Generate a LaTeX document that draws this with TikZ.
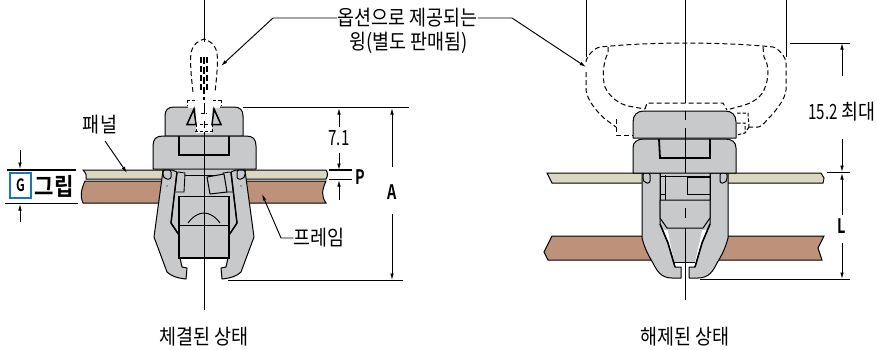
\documentclass[tikz,border=0pt]{standalone}
\usepackage{fontspec}
\usetikzlibrary{arrows.meta}
\setmainfont{Noto Sans CJK KR}[FakeStretch=0.88,BoldFont={* Bold}]
\newfontfamily\latf{Noto Sans CJK KR}[FakeStretch=0.72,BoldFont={* Bold}]
\definecolor{partgray}{HTML}{C8C9CB}
\definecolor{panelc}{HTML}{DAD8C3}
\definecolor{framec}{HTML}{BE917B}
\definecolor{gblue}{HTML}{1B75B9}
\tikzset{
  x=1pt,y=-1pt,
  part/.style={fill=partgray,draw=black,line width=1pt,line join=round},
  heavy/.style={draw=black,line width=1.8pt,line join=miter},
  thinl/.style={draw=black,line width=0.9pt},
  panelp/.style={fill=panelc,draw=black,line width=1pt},
  framep/.style={fill=framec,draw=black,line width=1pt},
  phantomw/.style={draw=black,line width=1pt,dash pattern=on 5pt off 3pt},
  dim/.style={draw=black,line width=0.95pt},
  arr/.style={dim,-{Latex[length=6.5pt,width=3.6pt]}},
  lab/.style={font=\fontsize{21}{23}\selectfont,inner sep=0pt,text=black},
  nlab/.style={font=\fontsize{21}{23}\selectfont\latf,inner sep=0pt,text=black},
  blab/.style={font=\fontsize{20}{22}\selectfont\latf\bfseries,inner sep=0pt,text=black},
}
\begin{document}
\begin{tikzpicture}
\useasboundingbox (0,0) rectangle (877,349);
% ---------- LEFT FIGURE ----------
\draw[framep] (85,181) .. controls (81,190) and (80,196) .. (83,203) -- (170,203) -- (170,181) -- cycle;
\draw[framep] (238,181) -- (326,181) .. controls (322,190) and (321,196) .. (326,203) -- (238,203) -- cycle;
\draw[panelp] (83,170) -- (170,170) -- (170,179) -- (86,179) .. controls (87,176) and (86,173) .. (83,170) -- cycle;
\draw[panelp] (238,170) -- (326,170) .. controls (328,173) and (328,176) .. (326,179) -- (238,179) -- cycle;
\newcommand{\leftleg}{%
\draw[part] (162,178) -- (154,237) -- (167,272) .. controls (171,276) and (177,278) .. (186,279) -- (187,268) -- (182,267) -- (180,258) -- (179,235) -- (171,223) -- (177,172) -- (172,170) -- (163,170) -- cycle;
\draw[heavy,line width=1.4pt] (177,172) -- (171,223) -- (179,235);
\draw[thinl] (178,172) -- (185,173) -- (184,192) -- (175.5,192);
\draw[part,rounded corners=2pt] (163,170) -- (171,170) -- (171,179) -- (165,179) -- (163,176) -- cycle;
\fill (167,186) circle (0.7);
}
\fill[partgray] (172,170) rectangle (236,240);
\leftleg
\begin{scope}[shift={(408,0)},xscale=-1]\leftleg\end{scope}
\draw[thinl] (185,175) -- (224,175);
\draw[part] (207,177) -- (224,174) -- (227,192) -- (210,194) -- cycle;
\draw[part] (179,196) rectangle (229,225);
\draw[part] (179,225) rectangle (229,258);
\draw[heavy,line width=1.4pt] (179,196) -- (179,258) -- (229,258) -- (229,196);
\draw[thinl] (179,196) -- (229,196);
\draw[thinl] (188,223) .. controls (193,216) and (199,213) .. (204,213) .. controls (209,213) and (215,216) .. (220,223);
% caps
\draw[part] (165,136) -- (165,116) .. controls (165,110) and (168,107) .. (174,107) -- (234,107) .. controls (240,107) and (243,110) .. (243,116) -- (243,136) -- cycle;
\draw[part] (153,169) -- (153,146) .. controls (153,139) and (156,136) .. (163,136) -- (246,136) .. controls (253,136) and (256,139) .. (256,146) -- (256,169) -- cycle;
\draw[heavy] (179,136) -- (179,155) -- (229,155) -- (229,136);
% wing phantom left
\fill[white] (196,106) rectangle (212,133);
\fill[white] (188,105) rectangle (220,108);
\draw[heavy,line width=1.5pt,fill=partgray] (194,109) -- (187,124.5) -- (196,124.5) -- cycle;
\draw[heavy,line width=1.5pt,fill=partgray] (214,109) -- (221,124.5) -- (212,124.5) -- cycle;
\draw[phantomw] (193,92) .. controls (191,75) and (190,62) .. (191,53) .. controls (193,44) and (198,41) .. (204,39) .. controls (210,41) and (215,44) .. (217,53) .. controls (218,62) and (217,75) .. (215,92);
\draw[phantomw,dash pattern=on 3pt off 2pt] (187,100) -- (197,100) (187,100) -- (187,106) (221,100) -- (211,100) (221,100) -- (221,106) (195,131) -- (213,131) (196,124) -- (196,131) (212,124) -- (212,131) (201,113) -- (207,113) (200,124) -- (208,124);
\draw[phantomw,line width=1.1pt,dash pattern=on 6pt off 3pt] (201,57) -- (201,90) (207,57) -- (207,90);
% centre line left
\draw[dim] (204,0) -- (204,42) (204,103) -- (204,114) (204,121) -- (204,128) (204,132) -- (204,310);
\draw[dim,line width=1.3pt,dash pattern=on 7pt off 3pt] (204,57) -- (204,100);
% ---------- RIGHT FIGURE ----------
\draw[framep] (552,236) -- (660,236) -- (660,260) -- (548,260) -- (544,252) -- cycle;
\draw[framep] (710,236) -- (824,236) -- (818,248) -- (822,260) -- (710,260) -- cycle;
\draw[panelp] (547,173) -- (650,173) -- (650,183) -- (552,183) -- cycle;
\draw[panelp] (720,173) -- (821,173) -- (824,178) -- (823,183) -- (720,183) -- cycle;
\newcommand{\rightleg}{%
\draw[part] (642,183) -- (642,238) .. controls (645,250) and (650,258) .. (653,263) .. controls (657,271) and (661,278) .. (672,278) -- (681,278) -- (681,267) -- (675,267) -- (668,243) -- (660,224) -- (660,173) -- (642,173) -- cycle;
\draw[heavy,line width=1.5pt] (660,224) -- (668,243) -- (675,267);
\draw[part,rounded corners=2pt] (643,173) -- (650,173) -- (650,183) -- (645,183) -- (643,180) -- cycle;
}
\fill[partgray] (660,173) rectangle (710,230);
\draw[draw=none,fill=partgray] (667,226) -- (703,226) -- (695,262) -- (674,262) -- cycle;
\rightleg
\begin{scope}[shift={(1370,0)},xscale=-1]\rightleg\end{scope}
\draw[thinl] (674,262) -- (695,262);
\draw[part] (660,200) -- (710,200) -- (710,218) -- (703,228) -- (667,228) -- (660,218) -- cycle;
\draw[thinl] (660,173) -- (660,200) (710,173) -- (710,200) (665,175) -- (665,200) (660,194) -- (665,194) (660,176) -- (710,176);
\draw[thinl] (687,177) -- (710,177) (687,177) -- (687,194) -- (710,194);
% caps
\draw[part] (633,138) -- (633,122) .. controls (633,115) and (637,111) .. (644,111) -- (725,111) .. controls (732,111) and (736,115) .. (736,122) -- (736,138) -- cycle;
\draw[part] (633,173) -- (633,148) .. controls (633,142) and (637,139) .. (644,139) -- (725,139) .. controls (732,139) and (736,142) .. (736,148) -- (736,173) -- cycle;
\draw[heavy] (659,139) -- (660,158) -- (710,158) -- (710,139);
% wing phantom right
\draw[phantomw] (586,62) .. controls (586,57) and (594,48) .. (600,47) .. controls (630,44) and (660,43) .. (685,43) .. controls (710,43) and (745,44) .. (773,47) .. controls (778,48) and (786,57) .. (786,63) -- (786,90) .. controls (785,100) and (775,112) .. (767,120) .. controls (763,125) and (760,127) .. (758,127) -- (749,127);
\draw[phantomw] (586,72) -- (586,90) .. controls (587,100) and (597,112) .. (605,119) -- (616,127);
\draw[phantomw] (616,119) -- (616,135) -- (633,135);
\draw[phantomw] (608,47) -- (608,53) .. controls (603,62) and (602,78) .. (605,87) .. controls (610,98) and (620,104) .. (628,106) -- (645,109);
\draw[phantomw] (645,109) -- (647,103) -- (723,103) -- (727,110);
\draw[phantomw] (763,47) -- (764,57) .. controls (769,65) and (770,78) .. (763,92) .. controls (758,100) and (748,105) .. (737,107) -- (727,110);
\draw[phantomw,dash pattern=on 3.5pt off 2pt] (737,113) -- (748,113) -- (749,127) (749,127) -- (745,133) -- (737,135) (737,123) -- (745,123) -- (745,133);
% centre line right
\draw[dim] (685,0) -- (685,103) (685,111) -- (685,120) (685,128) -- (685,173) (685,208) -- (685,218) (685,228) -- (685,300);
\draw[dim] (586,0) -- (586,57) (786,0) -- (786,57);
% ---------- LEADERS ----------
\node[lab,anchor=center] (opt) at (407.5,18) {옵션으로 제공되는};
\node[lab,anchor=center] (wing) at (408.5,43) {윙(별도 판매됨)};
\coordinate (optLbend) at (273,18);
\coordinate (optLtip) at (221,66);
\coordinate (optRbend) at (512,18);
\coordinate (optRtip) at (586,67);
\draw[arr] (opt.west) -- (optLbend) -- (optLtip);
\draw[arr] (opt.east) -- (optRbend) -- (optRtip);
\node[lab] (panel) at (100,125) {패널};
\coordinate (panelTip) at (127,173);
\draw[arr] (105,141) -- (panelTip);
\node[lab] (frame) at (319,238) {프레임};
\coordinate (frameBend) at (281,238);
\coordinate (frameTip) at (262,194);
\draw[arr] (frame.west) -- (frameBend) -- (frameTip);
% ---------- G ----------
\draw[dim,line width=1.1pt] (7,170) -- (76,170) (5,203.5) -- (78,203.5);
\coordinate (gt) at (20,169);\coordinate (gb) at (20,204);
\draw[arr] (20,150) -- (gt);
\draw[arr] (20,222) -- (gb);
\node[draw=gblue,line width=2pt,fill=white,minimum width=21pt,minimum height=25.5pt,inner sep=0pt,font=\fontsize{17}{17}\selectfont\latf\bfseries] (gbox) at (20.5,185.5) {G};
\node[inner sep=0pt,font=\fontsize{24}{26}\selectfont\bfseries] (grip) at (54,186) {그립};
% ---------- DIMS LEFT ----------
\draw[dim] (243,107) -- (409,107);
\draw[dim] (228,280.5) -- (403,280.5);
\draw[arr] (339,127) -- (339,108);
\node[nlab] (d71) at (339,138) {7.1};
\draw[arr] (339,153) -- (339,170);
\draw[dim,line width=1.5pt] (329,170) -- (352,170);
\draw[dim] (329,179.5) -- (352,179.5);
\draw[arr] (339,200) -- (339,180);
\node[blab] (pl) at (360,177.5) {P};
\draw[arr] (392,167) -- (392,108);
\node[blab] (al) at (392,192) {A};
\draw[arr] (392,214) -- (392,280);
% ---------- DIMS RIGHT ----------
\draw[dim] (790,43) -- (850,43);
\draw[dim] (827,172.5) -- (850,172.5);
\draw[dim] (700,279) -- (850,279);
\draw[arr] (842,76) -- (842,43);
\node[lab] (d152) at (842,112) {{\latf 15.2} 최대};
\draw[arr] (842,139) -- (842,172);
\draw[arr] (842,215) -- (842,173);
\node[blab] (ll) at (842,226) {L};
\draw[arr] (842,243) -- (842,279);
% ---------- CAPTIONS ----------
\node[lab] (c1) at (204,337) {체결된 상태};
\node[lab] (c2) at (685,337) {해제된 상태};
\end{tikzpicture}
\end{document}
